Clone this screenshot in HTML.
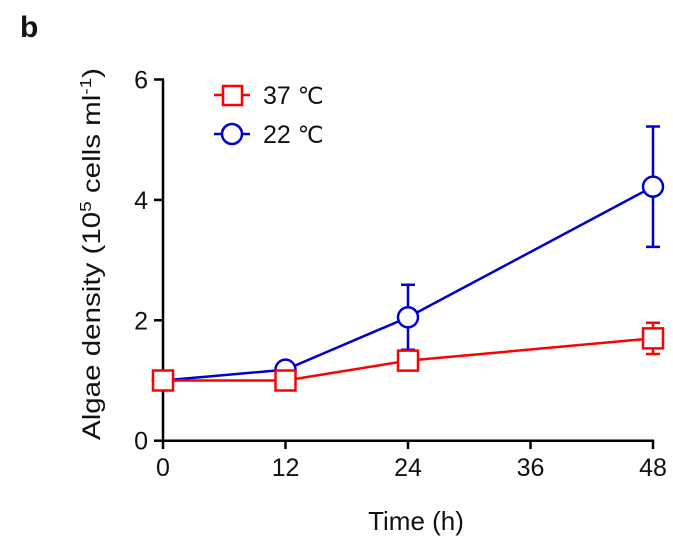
<!DOCTYPE html>
<html><head><meta charset="utf-8"><style>
body{margin:0;background:#fff;width:673px;height:542px;overflow:hidden}
svg text{font-family:"Liberation Sans",Arial,sans-serif;fill:#111}
</style></head><body>
<svg id="chart" width="673" height="542" viewBox="0 0 673 542" xmlns="http://www.w3.org/2000/svg">
<text x="20" y="37" font-size="30" font-weight="bold">b</text>
<g id="axes"></g>
<g id="series"></g>
<g id="legend">
<g>
<line x1="214" y1="95" x2="250" y2="95" stroke="#ff0000" stroke-width="2.5"/>
<rect x="223" y="86" width="19" height="19" fill="#fff" stroke="#ff0000" stroke-width="2.5"/>
<text x="263" y="104" font-size="25">37 <tspan font-family="Liberation Serif,serif" font-size="23">℃</tspan></text></g>
<g>
<line x1="214" y1="134" x2="250" y2="134" stroke="#0000cc" stroke-width="2.5"/>
<circle cx="232" cy="134" r="10" fill="#fff" stroke="#0000cc" stroke-width="2.5"/>
<text x="263" y="143" font-size="25">22 <tspan font-family="Liberation Serif,serif" font-size="23">℃</tspan></text></g>
</g>
<text x="416" y="530" font-size="26" text-anchor="middle">Time (h)</text>
<text transform="translate(100,440) rotate(-90)" font-size="25" textLength="372" lengthAdjust="spacingAndGlyphs">Algae density (10<tspan font-size="16" dy="-9">5</tspan><tspan dy="9"> cells ml</tspan><tspan font-size="16" dy="-9">-1</tspan><tspan dy="9">)</tspan></text>
</svg>
<script>
const times = [0, 12, 24, 48];
const xTicks = [0, 12, 24, 36, 48];
const yTicks = [0, 2, 4, 6];
const red37 = [1.0, 1.0, 1.33, 1.70];
const red37Err = [0.03, 0.03, 0.1, 0.26];
const blue22 = [1.0, 1.18, 2.05, 4.22];
const blue22Err = [0.02, 0.03, 0.54, 1.0];

const NS = "http://www.w3.org/2000/svg";
const X = t => 163 + t * (653 - 163) / 48;
const Y = v => 440.7 - v * 60.2;
function mk(tag, attrs, parent){const e=document.createElementNS(NS,tag);for(const k in attrs)e.setAttribute(k,attrs[k]);parent.appendChild(e);return e;}
const axes = document.getElementById('axes'), series = document.getElementById('series');
let e;
e = mk('line',{x1:163,y1:Y(6),x2:163,y2:441.5,stroke:'#000','stroke-width':2.5},axes);
 
e = mk('line',{x1:162,y1:440.7,x2:654,y2:440.7,stroke:'#000','stroke-width':2.5},axes);
 
xTicks.forEach(t=>{
  e = mk('line',{x1:X(t),y1:440,x2:X(t),y2:449,stroke:'#000','stroke-width':2.5},axes);
   
  e = mk('text',{x:X(t),y:476,'font-size':25,'text-anchor':'middle'},axes); e.textContent=t;
   
});
yTicks.forEach(v=>{
  e = mk('line',{x1:154,y1:Y(v),x2:164,y2:Y(v),stroke:'#000','stroke-width':2.5},axes);
   
  e = mk('text',{x:148,y:Y(v)+9,'font-size':25,'text-anchor':'end'},axes); e.textContent=v;
   
});
function draw(vals, errs, color, shape, name){
  const g = mk('g',{},series);
   
  const p = mk('polyline',{points:times.map((t,i)=>X(t)+','+Y(vals[i])).join(' '),fill:'none',stroke:color,'stroke-width':2.5},g);
   
  times.forEach((t,i)=>{
    const x=X(t), hi=Y(vals[i]+errs[i]), lo=Y(vals[i]-errs[i]);
    if (errs[i]>0.05){
      const eb = mk('path',{d:`M${x},${hi}V${lo}M${x-7},${hi}H${x+7}M${x-7},${lo}H${x+7}`,stroke:color,'stroke-width':2.5,fill:'none'},g);
       
    }
    let m;
    if (shape==='sq') m = mk('rect',{x:x-10,y:Y(vals[i])-10,width:20,height:20,fill:'#fff',stroke:color,'stroke-width':2.5},g);
    else m = mk('circle',{cx:x,cy:Y(vals[i]),r:10,fill:'#fff',stroke:color,'stroke-width':2.5},g);
     
  });
}
draw(blue22, blue22Err, '#0000cc', 'ci', 'temp-22c');
draw(red37, red37Err, '#ff0000', 'sq', 'temp-37c');
</script>
</body></html>
